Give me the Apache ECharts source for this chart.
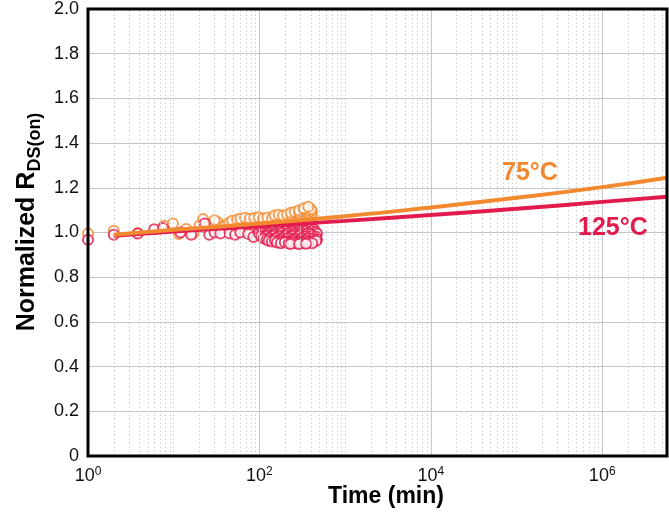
<!DOCTYPE html>
<html><head><meta charset="utf-8">
<script src="https://cdn.jsdelivr.net/npm/echarts@6/dist/echarts.min.js"></script>
<style>html,body{margin:0;padding:0;background:#fff}#c{width:669px;height:513px}</style>
</head><body><div id="c"></div>
<script>
const FONT = '"Liberation Sans", Arial, Helvetica, sans-serif';
const ORANGE = '#F3892F';
const CRIMSON = '#E21B4E';

// axis ranges
const xMin = 1, xMax = 5.7e6;
const yMin = 0, yMax = 2.0, yStep = 0.2;

// fitted curves (time in min, normalized RDS(on))
const fitTime = [2, 10, 100, 1000, 10000, 100000, 1e6, 5.7e6];
const fit75  = [0.990, 1.012, 1.040, 1.073, 1.112, 1.155, 1.203, 1.245];
const fit125 = [0.985, 1.005, 1.028, 1.052, 1.078, 1.106, 1.137, 1.160];

// measured points 75°C  [time, value]
const scatter75 = [
 [1,0.995],[2,1.008],[3.8,0.998],[7.7,1.03],[9.8,1.04],[11.5,0.993],[14,1.016],[17,0.995],
 [20,1.03],[24,1.04],[28,1.02],[33,1.045],[38,1.03],[22,1.06],[30,1.055],
 [40,1.028],[46,1.035],[52,1.026],[60,1.033],[68,1.027],[78,1.036],[88,1.029],[100,1.034],[115,1.027],[130,1.036],[150,1.031],
 [44,1.044],[50,1.038],[57,1.046],[64,1.041],[72,1.048],[81,1.039],[92,1.045],[104,1.042],[117,1.049],[132,1.040],[149,1.047],[168,1.043],[190,1.05],[215,1.041],[243,1.048],[275,1.044],[310,1.051],[350,1.046],[395,1.042],
 [48,1.053],[55,1.058],[62,1.051],[70,1.057],[79,1.054],[89,1.060],[100,1.052],[113,1.058],[127,1.055],[143,1.061],[161,1.053],[182,1.059],[205,1.056],[231,1.062],[261,1.054],[294,1.06],[332,1.057],[375,1.063],[410,1.055],
 [60,1.062],[68,1.066],[77,1.061],[87,1.065],[98,1.068],[110,1.063],[124,1.067],[140,1.062],[158,1.069],[178,1.065],[200,1.071],[226,1.067],[255,1.064],[288,1.071],[325,1.067],[367,1.073],[405,1.069],
 [150,1.076],[168,1.079],[188,1.075],[210,1.08],[236,1.077],[264,1.083],[296,1.078],[332,1.084],[375,1.08],[410,1.086],
 [232,1.088],[258,1.092],[291,1.089],[328,1.095],[370,1.09],[408,1.096],
 [290,1.1],[334,1.103],[376,1.099],[400,1.104],
 [330,1.108],[372,1.115]
];

// measured points 125°C  [time, value]
const scatter125 = [
 [1,0.968],[2,0.99],[3.8,0.995],[5.9,1.015],[7.5,1.02],[12,1.0],[16,0.99],[23,1.04],
 [26,0.99],[30,1.0],[35,0.995],[45,0.995],[52,0.99],[60,1.0],[74,0.993],[85,0.98],
 [192,1.022],[228,1.027],[271,1.021],[322,1.026],[383,1.02],
 [109,1.013],[119,1.018],[130,1.011],[142,1.016],[155,1.012],[169,1.019],[184,1.014],[200,1.017],[218,1.01],[238,1.016],[260,1.013],[283,1.018],[309,1.011],[337,1.015],[367,1.012],[400,1.017],[436,1.013],
 [98,1.003],[104,1.007],[114,1.001],[124,1.006],[136,1.002],[148,1.008],[162,1.003],[176,1.006],[192,1.0],[209,1.007],[228,1.002],[249,1.005],[271,1.0],[296,1.006],[322,1.003],[352,1.007],[383,1.001],[418,1.005],[455,1.002],
 [100,0.993],[109,0.997],[119,0.991],[130,0.996],[142,0.99],[155,0.995],[169,0.992],[184,0.998],[200,0.991],[218,0.996],[238,0.99],[260,0.995],[283,0.992],[309,0.997],[337,0.991],[367,0.996],[400,0.993],[436,0.989],[470,0.994],
 [104,0.984],[114,0.98],[124,0.986],[136,0.981],[148,0.985],[162,0.979],[176,0.984],[192,0.98],[209,0.986],[228,0.981],[249,0.984],[271,0.978],[296,0.985],[322,0.98],[352,0.983],[383,0.979],[418,0.985],[455,0.981],
 [112,0.973],[122,0.969],[133,0.974],[145,0.97],[158,0.975],[172,0.968],[188,0.973],[205,0.969],[223,0.974],[243,0.97],[265,0.972],[289,0.967],[315,0.973],[343,0.969],[374,0.974],[408,0.97],[445,0.972],[470,0.968],
 [128,0.963],[140,0.96],[152,0.964],[166,0.96],[181,0.963],[197,0.959],[215,0.962],[234,0.959],[255,0.964],[278,0.959],[303,0.962],[330,0.96],[360,0.963],[392,0.959],[427,0.961],[460,0.963],
 [160,0.955],[178,0.952],[198,0.956],[220,0.952],[245,0.955],[272,0.951],[302,0.954],[335,0.952],[372,0.955],[413,0.952],
 [230,0.949],[290,0.948],[350,0.95]
];

const curveLabels = ['75°C', '125°C'];

// gridline positions (data space)
const minorX = [], majorX = [];
for (let e = 0; e < 7; e++) {
  for (let k = 1; k < 10; k++) {
    const v = k * Math.pow(10, e);
    if (v >= xMax) continue;
    if (k === 1 && e % 2 === 0) { if (v > xMin) majorX.push(v); continue; }
    minorX.push(v);
  }
}

const chart = echarts.init(document.getElementById('c'), null, {renderer: 'canvas'});
chart.setOption({
  animation: false,
  backgroundColor: '#fff',
  grid: {left: 88, top: 6, right: 2, bottom: 57, show: true, borderColor: '#000', borderWidth: 3, z: 10},
  xAxis: {
    type: 'log', logBase: 10, min: xMin, max: xMax, splitNumber: 7,
    axisLine: {show: false}, axisTick: {show: false}, splitLine: {show: false},
    axisLabel: {
      margin: 10, showMaxLabel: false,
      formatter: function (v) {
        const e = Math.log10(v);
        const r = Math.round(e);
        if (Math.abs(e - r) > 1e-6 || r % 2 !== 0) return '';
        return '{b|10}{s|' + r + '}';
      },
      rich: {
        b: {fontFamily: FONT, fontSize: 18, color: '#111', lineHeight: 20},
        s: {fontFamily: FONT, fontSize: 12, color: '#111', verticalAlign: 'top', lineHeight: 12}
      }
    }
  },
  yAxis: {
    type: 'value', min: yMin, max: yMax, interval: yStep,
    axisLine: {show: false}, axisTick: {show: false},
    splitLine: {show: true, lineStyle: {color: '#c6c6c6', width: 1}},
    axisLabel: {
      margin: 9, fontFamily: FONT, fontSize: 18, color: '#111',
      formatter: v => v === 0 ? '0' : v.toFixed(1)
    }
  },
  series: [
    {
      type: 'line', data: [], z: 1, silent: true,
      markLine: {
        silent: true, symbol: 'none', label: {show: false}, animation: false,
        lineStyle: {color: '#cccccc', width: 1, type: [1.5, 2.5]},
        data: minorX.map(v => ({xAxis: v}))
      }
    },
    {
      type: 'line', data: [], z: 1, silent: true,
      markLine: {
        silent: true, symbol: 'none', label: {show: false}, animation: false,
        lineStyle: {color: '#c6c6c6', width: 1, type: 'solid'},
        data: majorX.map(v => ({xAxis: v}))
      }
    },
    {
      name: curveLabels[0] + ' data', type: 'scatter', data: scatter75, z: 3,
      symbol: 'emptyCircle', symbolSize: 10,
      itemStyle: {color: ORANGE, borderColor: ORANGE, borderWidth: 1}
    },
    {
      name: curveLabels[1] + ' data', type: 'scatter', data: scatter125, z: 4,
      symbol: 'emptyCircle', symbolSize: 10,
      itemStyle: {color: CRIMSON, borderColor: CRIMSON, borderWidth: 1}
    },
    {
      name: curveLabels[1], type: 'line', smooth: true, showSymbol: false, z: 5,
      data: fitTime.map((t, i) => [t, fit125[i]]),
      lineStyle: {color: CRIMSON, width: 4}
    },
    {
      name: curveLabels[0], type: 'line', smooth: true, showSymbol: false, z: 6,
      data: fitTime.map((t, i) => [t, fit75[i]]),
      lineStyle: {color: ORANGE, width: 4}
    }
  ],
  graphic: [
    {type: 'text', left: 502, top: 161, z: 20,
     style: {text: curveLabels[0], fill: ORANGE, font: 'bold 25px ' + FONT}},
    {type: 'text', left: 578, top: 216, z: 20,
     style: {text: curveLabels[1], fill: CRIMSON, font: 'bold 25px ' + FONT}},
    {type: 'text', x: 386, y: 497, z: 20,
     style: {text: 'Time (min)', fill: '#000', font: 'bold 23px ' + FONT, align: 'center', verticalAlign: 'middle'}},
    {type: 'text', x: 25, y: 222, rotation: Math.PI / 2, z: 20,
     style: {
       text: '{a|Normalized R}{s|DS(on)}', align: 'center', verticalAlign: 'middle',
       rich: {
         a: {fontFamily: FONT, fontWeight: 'bold', fontSize: 25, fill: '#000', lineHeight: 30, verticalAlign: 'bottom'},
         s: {fontFamily: FONT, fontWeight: 'bold', fontSize: 18, fill: '#000', lineHeight: 30, verticalAlign: 'bottom', padding: [0, 0, -4, 0]}
       }
     }}
  ]
});
</script>
</body></html>
